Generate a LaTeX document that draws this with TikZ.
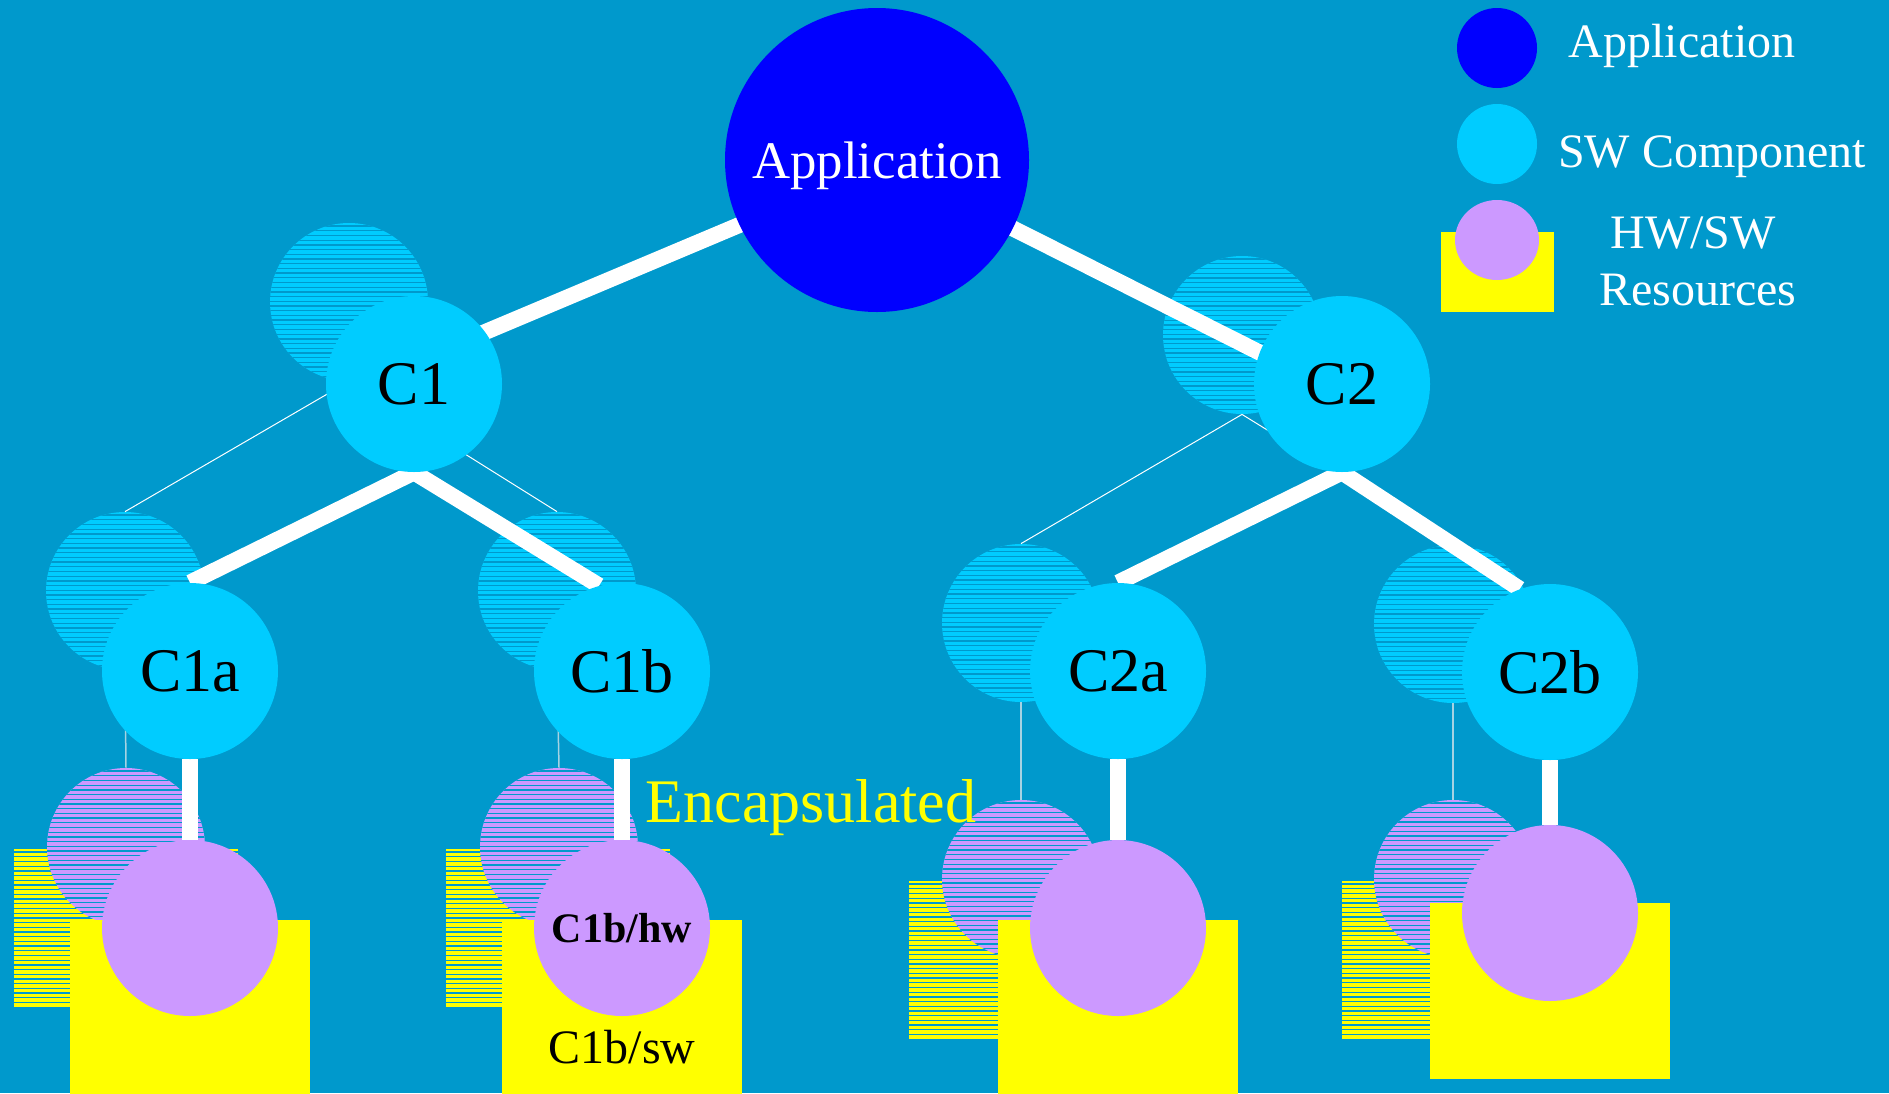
\documentclass[tikz,border=0pt]{standalone}
\usepackage{fontspec}
\setmainfont{Liberation Serif}
\usetikzlibrary{shapes.geometric}
\definecolor{bgblue}{HTML}{0099CC}
\definecolor{compcyan}{HTML}{00CCFF}
\definecolor{appblue}{HTML}{0000FF}
\definecolor{hwpurple}{HTML}{CC99FF}
\definecolor{swyellow}{HTML}{FFFF00}
\definecolor{tracegrey}{HTML}{A6D3E3}
\pgfdeclarelayer{back}
\pgfdeclarelayer{ghost}
\pgfdeclarelayer{links}
\pgfsetlayers{back,ghost,links,main}
\tikzset{
  hatched/.style={path picture={
    \foreach \k in {0,...,40}{
      \fill[bgblue] ([yshift=-\k*2.35pt-1.2pt]path picture bounding box.north west)
        rectangle ([yshift=-\k*2.35pt-1.85pt]path picture bounding box.north east);}}},
  ghostcomp/.style={circle, fill=compcyan, minimum size=79pt, inner sep=0pt, hatched},
  ghostres/.style={circle, fill=hwpurple, minimum size=79pt, inner sep=0pt, hatched},
  ghostbox/.style={rectangle, fill=swyellow, minimum width=112pt, minimum height=79pt, inner sep=0pt, hatched},
  comp/.style={circle, fill=compcyan, minimum size=88pt, inner sep=0pt, font=\fontsize{31}{36}\selectfont},
  res/.style={circle, fill=hwpurple, minimum size=88pt, inner sep=0pt},
  resbox/.style={rectangle, fill=swyellow, minimum width=120pt, minimum height=88pt, inner sep=0pt},
  thinlink/.style={draw=white, line width=0.5pt},
  droplink/.style={draw=tracegrey, line width=0.75pt},
  thicklink/.style={draw=white, line width=8pt},
  legendtext/.style={text=white, font=\fontsize{24}{28}\selectfont, anchor=base, inner sep=0pt},
}
\begin{document}
\begin{tikzpicture}[x=0.5pt, y=-0.5pt]
\begin{pgfonlayer}{back}
  \fill[bgblue] (0,0) rectangle (1889,1093);
\end{pgfonlayer}
\useasboundingbox (0,0) rectangle (1889,1093);

% ghost copy of the tree, hatched
\begin{pgfonlayer}{ghost}
  \node[ghostcomp] (sc1) at (349,302) {};
  \node[ghostcomp] (sc2) at (1242,335) {};
  \node[ghostcomp] (sc1a) at (125,591) {};
  \node[ghostcomp] (sc1b) at (557,591) {};
  \node[ghostcomp] (sc2a) at (1021,623) {};
  \node[ghostcomp] (sc2b) at (1453,624) {};
  \node[ghostbox] (sb1a) at (126,928) {};
  \node[ghostbox] (sb1b) at (558,928) {};
  \node[ghostbox] (sb2a) at (1021,960) {};
  \node[ghostbox] (sb2b) at (1454,960) {};
  \node[ghostres] (sr1a) at (126,847) {};
  \node[ghostres] (sr1b) at (559,847) {};
  \node[ghostres] (sr2a) at (1021,879) {};
  \node[ghostres] (sr2b) at (1453,879) {};
  \draw[thinlink] (sc1.south) -- (sc1a.north);
  \draw[thinlink] (sc1.south) -- (sc1b.north);
  \draw[thinlink] (sc2.south) -- (sc2a.north);
  \draw[thinlink] (sc2.south) -- (sc2b.north);
  \draw[droplink] (sc1a.south) -- (sr1a.north);
  \draw[droplink] (sc1b.south) -- (sr1b.north);
  \draw[droplink] (sc2a.south) -- (sr2a.north);
  \draw[droplink] (sc2b.south) -- (sr2b.north);
\end{pgfonlayer}

% main tree
\node[circle, fill=appblue, minimum size=152pt, inner sep=0pt, text=white,
      text depth=0pt, font=\fontsize{26.4}{30}\selectfont] (app) at (877,160) {Application};
\node[comp] (c1) at (414,384) {C1};
\node[comp] (c2) at (1342,384) {C2};
\node[comp] (c1a) at (190,671) {C1a};
\node[comp] (c1b) at (622,671) {C1b};
\node[comp] (c2a) at (1118,671) {C2a};
\node[comp] (c2b) at (1550,672) {C2b};

\node[resbox] (b1a) at (190,1008) {};
\node[resbox] (b1b) at (622,1008) {};
\node[resbox] (b2a) at (1118,1008) {};
\node[resbox] (b2b) at (1550,991) {};
\node[res] (r1a) at (190,928) {};
\node[res, font=\bfseries\fontsize{21}{25}\selectfont] (r1b) at (622,928) {C1b/hw};
\node[res] (r2a) at (1118,928) {};
\node[res] (r2b) at (1550,913) {};
\node[anchor=base, inner sep=0pt, font=\fontsize{24}{28}\selectfont] (sw1b) at (622,1063) {C1b/sw};

\node[anchor=base, inner sep=0pt, text=swyellow, font=\fontsize{31}{36}\selectfont] (encap) at (811,822) {Encapsulated};

\begin{pgfonlayer}{links}
  \draw[thicklink] ([yshift=-3.5pt]app.center) -- ([yshift=11pt]c1.center);
  \draw[thicklink] (app.center) -- ([yshift=-5pt]c2.center);
  \draw[thicklink] (c1.south) -- (c1a.north);
  \draw[thicklink] (c1.south) -- (c1b.105);
  \draw[thicklink] (c2.south) -- (c2a.north);
  \draw[thicklink] (c2.south) -- (c2b.110);
  \draw[thicklink] (c1a.south) -- (r1a.north);
  \draw[thicklink] (c1b.south) -- (r1b.north);
  \draw[thicklink] (c2a.south) -- (r2a.north);
  \draw[thicklink] (c2b.south) -- (r2b.north);
\end{pgfonlayer}

% legend
\node[circle, fill=appblue, minimum size=40pt, inner sep=0pt] (lapp) at (1497,48) {};
\node[circle, fill=compcyan, minimum size=40pt, inner sep=0pt] (lsw) at (1497,144) {};
\node[rectangle, fill=swyellow, minimum width=56.5pt, minimum height=40pt, inner sep=0pt] (lbox) at (1497.5,272) {};
\node[ellipse, fill=hwpurple, minimum width=42pt, minimum height=40pt, inner sep=0pt] (lres) at (1497,240) {};
\node[legendtext] (tapp) at (1682,57) {Application};
\node[legendtext] (tsw) at (1712,167) {SW Component};
\node[legendtext] (thw) at (1693,248) {HW/SW};
\node[legendtext] (tres) at (1698,305) {Resources};
\end{tikzpicture}
\end{document}
